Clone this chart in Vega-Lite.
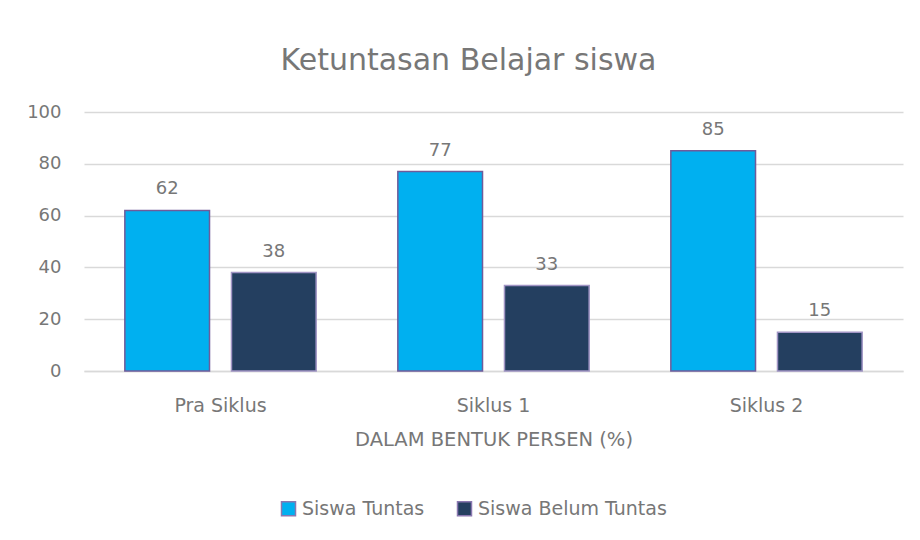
{
  "$schema": "https://vega.github.io/schema/vega-lite/v6.json",
  "autosize": {"type": "none"},
  "width": 819,
  "height": 259,
  "padding": {"left": 84, "top": 112, "right": 17, "bottom": 169},
  "background": "white",
  "config": {
    "font": "DejaVu Sans",
    "view": {"stroke": null},
    "axis": {"labelFont": "DejaVu Sans", "titleFont": "DejaVu Sans"}
  },
  "title": {
    "text": "Ketuntasan Belajar siswa",
    "fontSize": 30,
    "font": "DejaVu Sans",
    "fontWeight": "normal",
    "color": "#777777",
    "anchor": "middle",
    "dx": -25,
    "offset": 27
  },
  "data": {
    "values": [
      {"siklus": "Pra Siklus", "kategori": "Siswa Tuntas", "nilai": 62},
      {"siklus": "Pra Siklus", "kategori": "Siswa Belum Tuntas", "nilai": 38},
      {"siklus": "Siklus 1", "kategori": "Siswa Tuntas", "nilai": 77},
      {"siklus": "Siklus 1", "kategori": "Siswa Belum Tuntas", "nilai": 33},
      {"siklus": "Siklus 2", "kategori": "Siswa Tuntas", "nilai": 85},
      {"siklus": "Siklus 2", "kategori": "Siswa Belum Tuntas", "nilai": 15}
    ]
  },
  "encoding": {
    "x": {
      "field": "siklus",
      "type": "nominal",
      "sort": ["Pra Siklus", "Siklus 1", "Siklus 2"],
      "scale": {"paddingInner": 0, "paddingOuter": 0},
      "axis": {
        "title": "DALAM BENTUK PERSEN (%)",
        "titleFontSize": 19.5,
        "titleFontWeight": "normal",
        "titleColor": "#777777",
        "titlePadding": 15,
        "labelAngle": 0,
        "labelFontSize": 19,
        "labelColor": "#777777",
        "labelPadding": 25,
        "ticks": false,
        "domainColor": "#d9d9d9",
        "domainWidth": 1.5
      }
    },
    "xOffset": {
      "field": "kategori",
      "type": "nominal",
      "sort": ["Siswa Tuntas", "Siswa Belum Tuntas"],
      "scale": {"paddingInner": 0.206, "paddingOuter": 0.383}
    },
    "y": {
      "field": "nilai",
      "type": "quantitative",
      "scale": {"domain": [0, 100]},
      "axis": {
        "title": null,
        "values": [0, 20, 40, 60, 80, 100],
        "labelFontSize": 18,
        "labelColor": "#777777",
        "labelPadding": 23,
        "ticks": false,
        "domain": false,
        "gridColor": "#d9d9d9",
        "gridWidth": 1.5
      }
    }
  },
  "layer": [
    {
      "mark": {"type": "bar", "strokeWidth": 1.5},
      "encoding": {
        "color": {
          "field": "kategori",
          "type": "nominal",
          "sort": ["Siswa Tuntas", "Siswa Belum Tuntas"],
          "scale": {"range": ["#00B0F0", "#243F60"]},
          "legend": {
            "title": null,
            "orient": "none",
            "direction": "horizontal",
            "legendX": 195,
            "legendY": 387,
            "symbolType": "square",
            "symbolSize": 196,
            "symbolStrokeColor": "#8a78b0",
            "symbolStrokeWidth": 1.5,
            "labelFontSize": 19,
            "labelColor": "#777777",
            "labelFont": "DejaVu Sans",
            "labelLimit": 400,
            "columnPadding": 29,
            "labelOffset": 4
          }
        },
        "stroke": {
          "field": "kategori",
          "type": "nominal",
          "sort": ["Siswa Tuntas", "Siswa Belum Tuntas"],
          "scale": {"range": ["#6f5b9a", "#a094c4"]},
          "legend": null
        }
      }
    },
    {
      "mark": {"type": "text", "baseline": "bottom", "dy": -12, "fontSize": 18, "color": "#777777", "font": "DejaVu Sans"},
      "encoding": {
        "text": {"field": "nilai", "type": "quantitative"}
      }
    }
  ]
}
